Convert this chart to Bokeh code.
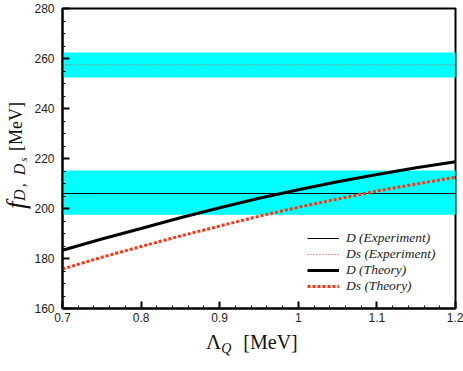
from bokeh.plotting import figure
from bokeh.models import (Legend, LegendItem, FixedTicker, BoxAnnotation,
                          Range1d, Div)
from bokeh.layouts import row, column
from bokeh.embed import file_html
from bokeh.resources import INLINE

# ---- data ----
x_limits = [0.7, 1.2]
y_limits = [160, 280]
x_theory = [0.70, 0.75, 0.80, 0.85, 0.90, 0.95, 1.00, 1.05, 1.10, 1.15, 1.20]
d_theory = [183.3, 187.8, 192.0, 196.3, 200.3, 204.1, 207.5, 210.7, 213.6, 216.3, 218.7]
ds_theory = [175.8, 180.5, 184.8, 189.0, 193.0, 196.9, 200.5, 203.8, 207.0, 209.8, 212.5]
d_exp = 206.0
d_exp_lo, d_exp_hi = 197.5, 215.2
ds_exp = 257.5
ds_exp_lo, ds_exp_hi = 252.4, 262.4
x_ticks = [0.7, 0.8, 0.9, 1.0, 1.1, 1.2]
x_tick_labels = ["0.7", "0.8", "0.9", "1", "1.1", "1.2"]
x_minor = [round(0.7 + 0.02 * i, 2) for i in range(26)]
y_ticks = [160, 180, 200, 220, 240, 260, 280]
y_minor = list(range(160, 281, 5))
legend_labels = ["D (Experiment)", "Ds (Experiment)", "D (Theory)", "Ds (Theory)"]

CYAN = "#00ffff"
RED = "#ff3311"

p = figure(width=433, height=332, output_backend="svg", toolbar_location=None,
           x_range=Range1d(*x_limits), y_range=Range1d(*y_limits),
           min_border_left=32, min_border_right=8, min_border_top=8,
           min_border_bottom=24)
p.xgrid.visible = False
p.ygrid.visible = False
p.outline_line_color = "black"
p.outline_line_width = 2
p.background_fill_color = "white"
p.border_fill_color = "white"

# bands
p.add_layout(BoxAnnotation(bottom=d_exp_lo, top=d_exp_hi, fill_color=CYAN,
                           fill_alpha=1, line_color=None, level="underlay"))
p.add_layout(BoxAnnotation(bottom=ds_exp_lo, top=ds_exp_hi, fill_color=CYAN,
                           fill_alpha=1, line_color=None, level="underlay"))

r1 = p.line(x=x_limits, y=[d_exp, d_exp], line_color="black", line_width=1)
r2 = p.line(x=x_limits, y=[ds_exp, ds_exp], line_color="#e0503a", line_width=1.2,
            line_dash="1 2")
r3 = p.line(x=x_theory, y=d_theory, line_color="black", line_width=3)
r4 = p.line(x=x_theory, y=ds_theory, line_color=RED, line_width=3, line_dash="3 2")

legend = Legend(items=[LegendItem(label=l, renderers=[r]) for l, r in
                       zip(legend_labels, [r1, r2, r3, r4])],
                location=(245, 14), padding=0, margin=0, spacing=0,
                glyph_width=32, glyph_height=16, label_height=16,
                label_standoff=7, border_line_color=None,
                background_fill_alpha=0,
                label_text_font="Liberation Serif", label_text_font_style="italic",
                label_text_font_size="13.5px", label_text_color="#222222")
p.add_layout(legend, "center")

for ax in (p.xaxis, p.yaxis):
    ax.axis_line_width = 2
    ax.major_tick_in = 7
    ax.major_tick_out = 0
    ax.minor_tick_in = 3
    ax.minor_tick_out = 0
    ax.major_tick_line_width = 2
    ax.minor_tick_line_width = 1
    ax.major_label_text_font = "Liberation Sans"
    ax.major_label_text_font_size = "12px"
    ax.major_label_text_color = "#222222"

p.xaxis.ticker = FixedTicker(ticks=x_ticks, minor_ticks=x_minor)
p.xaxis.major_label_overrides = dict(zip(x_ticks, x_tick_labels))
p.xaxis.major_label_standoff = 4
p.yaxis.ticker = FixedTicker(ticks=y_ticks, minor_ticks=y_minor)
p.yaxis.major_label_standoff = 8

# axis titles with sub-scripts, as real HTML text
SERIF = "'Liberation Serif', serif"
y_title = Div(width=30, height=332, margin=0, text=(
    f'<div style="width:30px;height:332px;display:flex;align-items:center;'
    f'justify-content:center;box-sizing:border-box;padding-bottom:22px;'
    f'padding-left:2px;">'
    f'<span style="writing-mode:vertical-rl;transform:rotate(180deg);'
    f'font-family:{SERIF};font-size:18px;white-space:nowrap;color:#111;">'
    f'<i style="font-size:27px">f</i>'
    f'<i style="font-size:16px;vertical-align:-4px;letter-spacing:2px">D, D'
    f'<span style="font-size:11px;vertical-align:-3px">s</span></i>'
    f'<span style="margin-top:5px">[MeV]</span></span></div>'))
x_title = Div(width=463, height=39, margin=0, text=(
    f'<div style="padding-left:206px;padding-top:0px;font-family:{SERIF};'
    f'font-size:20px;line-height:20px;white-space:nowrap;color:#111;">'
    f'<span style="font-size:21px">\u039b</span>'
    f'<i style="font-size:14px;vertical-align:-4px">Q</i>'
    f'<span style="margin-left:12px">[MeV]</span></div>'))

layout = column(row(y_title, p), x_title)

open("out.html", "w").write(file_html(layout, INLINE))
